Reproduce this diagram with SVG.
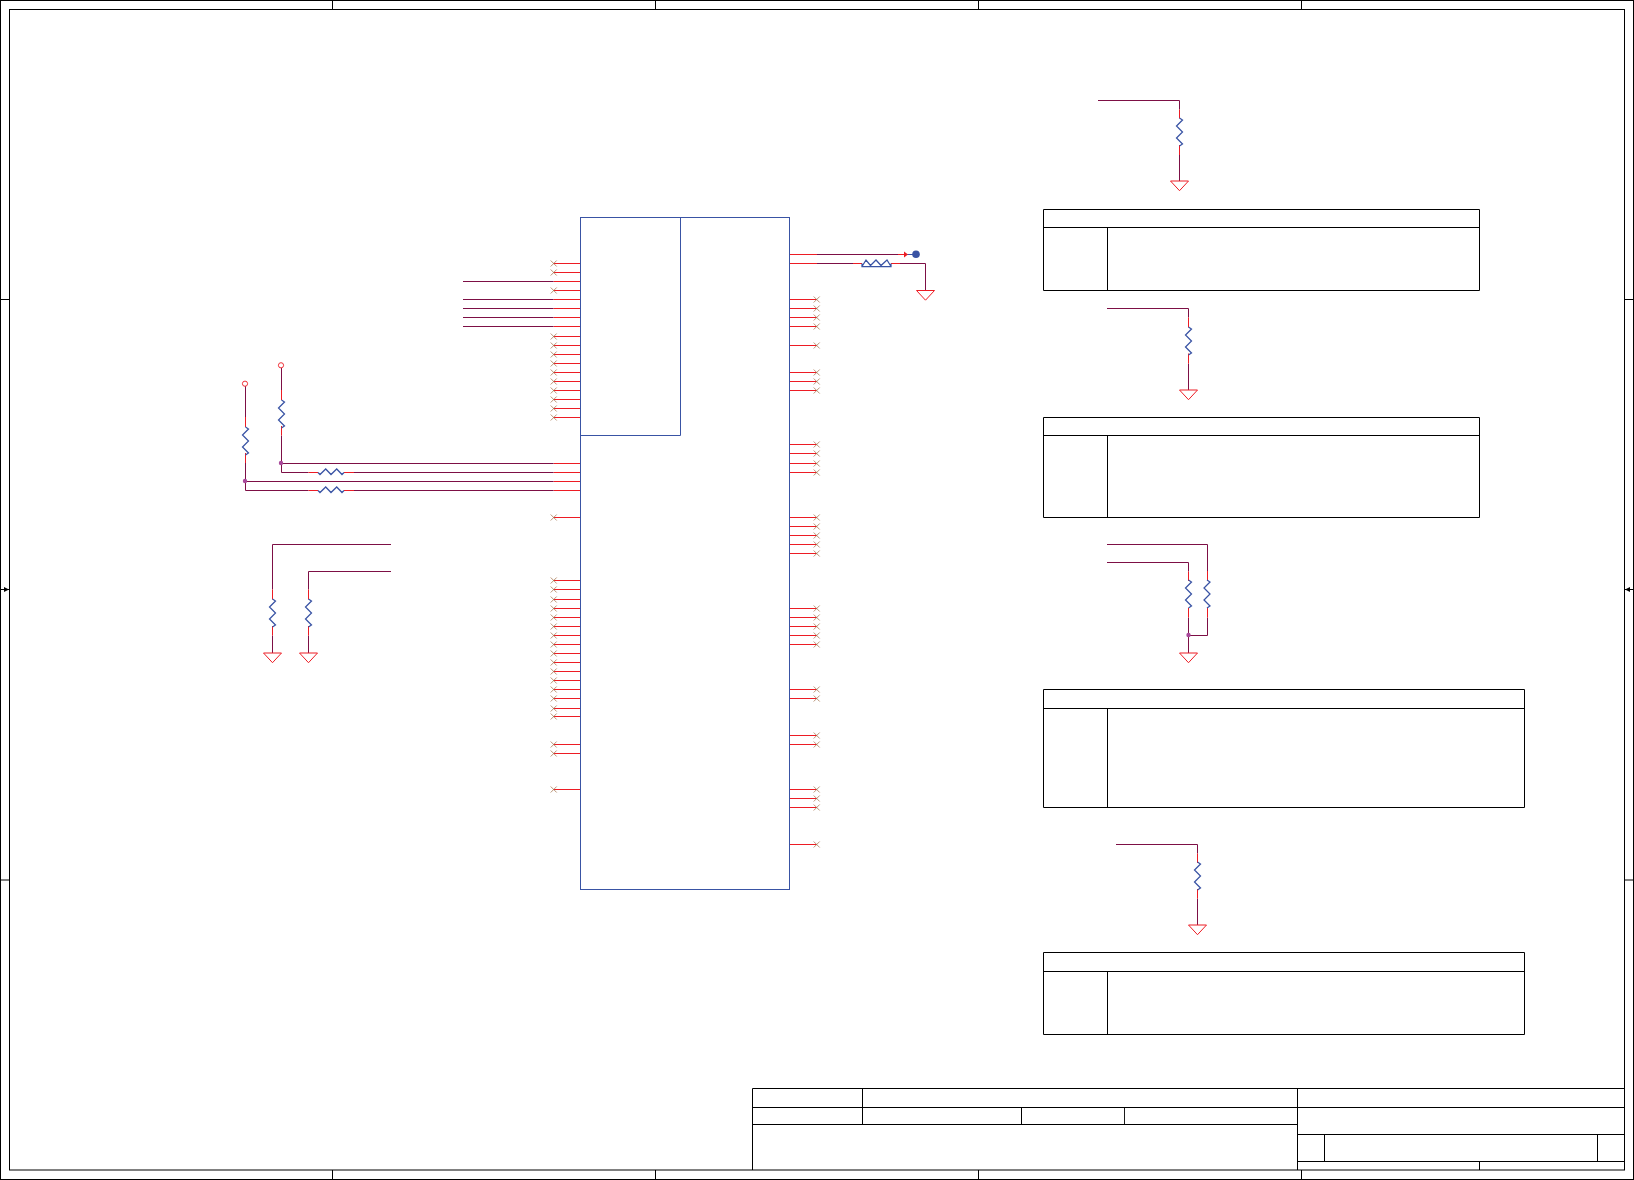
<svg xmlns="http://www.w3.org/2000/svg" width="1634" height="1180" viewBox="0 0 1634 1180">
<style>
.f{fill:none;stroke:#000;stroke-width:1}
.f2{fill:none;stroke:#000;stroke-width:.9}
.b{fill:none;stroke:#3953a4;stroke-width:1}
.z{fill:none;stroke:#3953a4;stroke-width:1.25}
.r{fill:none;stroke:#ed1c24;stroke-width:1}
.w{fill:none;stroke:#7d0f45;stroke-width:1}
.x{fill:none;stroke:#a87a56;stroke-width:.8}
.g{fill:#fff;stroke:#ed1c24;stroke-width:1}
.j{fill:#a8489a}
</style>
<defs>
<path id="x" class="x" d="M-3-3L3 3M-3 3L3-3"/>
<path id="zv" class="z" d="M0-1L3 1L-3 7L3 13L-3 19L3 25L0 27"/>
<path id="zh" class="z" d="M0 0L2 2L7.7-3.5L13 2L18.7-3.5L24 2L26 0"/>
<path id="gnd" class="g" d="M-9 0H9L0 9.7Z"/>
</defs>
<rect width="1634" height="1180" fill="#fff"/>
<g id="frame">
<rect class="f" x=".5" y=".5" width="1633" height="1179"/>
<rect class="f" x="9.5" y="9.5" width="1615" height="1160.5"/>
<path class="f" d="M332.5 .5V9.5M655.5 .5V9.5M978.5 .5V9.5M1301.5 .5V9.5M332.5 1170V1179.5M655.5 1170V1179.5M978.5 1170V1179.5M1301.5 1170V1179.5M.5 299.5H9.5M.5 880H9.5M1624.5 299.5H1633.5M1624.5 880H1633.5M.5 589.5H9.5M1624.5 589.5H1633.5"/>
<path d="M4 587L9 589.5L4 592ZM1630 587L1625 589.5L1630 592Z" fill="#000"/>
</g>
<g id="title-block">
<path class="f" d="M752.5 1170V1088.5H1624.5M752.5 1107.5H1624.5M752.5 1124.5H1297.5M862.5 1088.5V1124.5M1021.5 1107.5V1124.5M1297.5 1088.5V1170M1297.5 1134.5H1624.5M1324.5 1134.5V1161.5M1597.5 1134.5V1161.5M1297.5 1161.5H1624.5M1479.5 1161.5V1170"/>
<path class="f2" d="M1124.5 1107.5V1124.5"/>
</g>
<g id="table-1"><path class="f" d="M1043.5 209.5H1479.5V290.5H1043.5ZM1043.5 227.5H1479.5M1107.5 227.5V290.5"/></g>
<g id="table-2"><path class="f" d="M1043.5 417.5H1479.5V517.5H1043.5ZM1043.5 435.5H1479.5M1107.5 435.5V517.5"/></g>
<g id="table-3"><path class="f" d="M1043.5 689.5H1524.5V807.5H1043.5ZM1043.5 708.5H1524.5M1107.5 708.5V807.5"/></g>
<g id="table-4"><path class="f" d="M1043.5 952.5H1524.5V1034.5H1043.5ZM1043.5 971.5H1524.5M1107.5 971.5V1034.5"/></g>
<g id="connectors">
<path class="r" d="M553.5 263.5H580M553.5 272.5H580M553.5 281.5H580M553.5 290.5H580M553.5 299.5H580M553.5 308.5H580M553.5 317.5H580M553.5 326.5H580M553.5 336.5H580M553.5 345.5H580M553.5 354.5H580M553.5 363.5H580M553.5 372.5H580M553.5 381.5H580M553.5 390.5H580M553.5 399.5H580M553.5 408.5H580M553.5 417.5H580M553.5 463.5H580M553.5 472.5H580M553.5 481.5H580M553.5 490.5H580M553.5 517.5H580M553.5 580.5H580M553.5 589.5H580M553.5 599.5H580M553.5 608.5H580M553.5 617.5H580M553.5 626.5H580M553.5 635.5H580M553.5 644.5H580M553.5 653.5H580M553.5 662.5H580M553.5 671.5H580M553.5 680.5H580M553.5 689.5H580M553.5 698.5H580M553.5 708.5H580M553.5 716.5H580M553.5 744.5H580M553.5 753.5H580M553.5 789.5H580"/>
<path class="r" d="M790 254.5H817M790 263.5H817M790 299.5H817M790 308.5H817M790 317.5H817M790 326.5H817M790 345.5H817M790 372.5H817M790 381.5H817M790 390.5H817M790 444.5H817M790 453.5H817M790 463.5H817M790 472.5H817M790 517.5H817M790 526.5H817M790 535.5H817M790 544.5H817M790 553.5H817M790 608.5H817M790 617.5H817M790 626.5H817M790 635.5H817M790 644.5H817M790 689.5H817M790 698.5H817M790 735.5H817M790 744.5H817M790 789.5H817M790 798.5H817M790 807.5H817M790 844.5H817"/>
<path class="w" d="M463 281.5H553.5M463 299.5H553.5M463 308.5H553.5M463 317.5H553.5M463 326.5H553.5"/>
<path class="w" d="M281.5 463.5H553.5M281.5 368V390M281.5 435.5V472.5H308.5M354 472.5H553.5M245.5 481.5H553.5M245.5 386V417M245.5 463V490.5H308.5M354 490.5H553.5"/>
<path class="r" d="M281.5 390V400M281.5 426V435.5M245.5 417V427M245.5 453V463M308.5 472.5H318M344 472.5H354M308.5 490.5H318M344 490.5H354"/>
<path class="w" d="M391 544.5H272.5V589.5M272.5 635.5V653M391 571.5H308.5V589.5M308.5 635.5V653"/>
<path class="r" d="M272.5 589.5V599.5M272.5 626V635.5M308.5 589.5V599.5M308.5 626V635.5"/>
<path class="w" d="M817 254.5H898M817 263.5H853M900 263.5H925.5V290.5"/>
<path class="r" d="M898 254.5H905M853 263.5H862M891 263.5H900"/>
<path class="b" d="M906 254.5H913"/>
<path d="M904 251.5L908 254.5L904 257.5Z" fill="#ed1c24"/>
<path class="w" d="M1098 100.5H1179.5V109.5M1179.5 155V181M1107 308.5H1188.5V317.5M1188.5 363.5V390M1107 544.5H1207.5V571M1207.5 617.5V635.5H1188.5M1107 562.5H1188.5V571.5M1188.5 617.5V653M1116 844.5H1197.5V853.5M1197.5 898.5V925"/>
<path class="r" d="M1179.5 109.5V118.5M1179.5 145V155M1188.5 317.5V327.5M1188.5 353.5V363.5M1207.5 571V581M1207.5 608V617.5M1188.5 571.5V581M1188.5 608V617.5M1197.5 853.5V863M1197.5 889V898.5"/>
</g>
<g id="no-connects">
<use href="#x" x="553.7" y="263.5"/><use href="#x" x="553.7" y="272.5"/><use href="#x" x="553.7" y="290.5"/><use href="#x" x="553.7" y="336.5"/><use href="#x" x="553.7" y="345.5"/><use href="#x" x="553.7" y="354.5"/><use href="#x" x="553.7" y="363.5"/><use href="#x" x="553.7" y="372.5"/><use href="#x" x="553.7" y="381.5"/><use href="#x" x="553.7" y="390.5"/><use href="#x" x="553.7" y="399.5"/><use href="#x" x="553.7" y="408.5"/><use href="#x" x="553.7" y="417.5"/><use href="#x" x="553.7" y="517.5"/>
<use href="#x" x="553.7" y="580.5"/><use href="#x" x="553.7" y="589.5"/><use href="#x" x="553.7" y="599.5"/><use href="#x" x="553.7" y="608.5"/><use href="#x" x="553.7" y="617.5"/><use href="#x" x="553.7" y="626.5"/><use href="#x" x="553.7" y="635.5"/><use href="#x" x="553.7" y="644.5"/><use href="#x" x="553.7" y="653.5"/><use href="#x" x="553.7" y="662.5"/><use href="#x" x="553.7" y="671.5"/><use href="#x" x="553.7" y="680.5"/><use href="#x" x="553.7" y="689.5"/><use href="#x" x="553.7" y="698.5"/><use href="#x" x="553.7" y="708.5"/><use href="#x" x="553.7" y="716.5"/><use href="#x" x="553.7" y="744.5"/><use href="#x" x="553.7" y="753.5"/><use href="#x" x="553.7" y="789.5"/>
<use href="#x" x="816.7" y="299.5"/><use href="#x" x="816.7" y="308.5"/><use href="#x" x="816.7" y="317.5"/><use href="#x" x="816.7" y="326.5"/><use href="#x" x="816.7" y="345.5"/><use href="#x" x="816.7" y="372.5"/><use href="#x" x="816.7" y="381.5"/><use href="#x" x="816.7" y="390.5"/><use href="#x" x="816.7" y="444.5"/><use href="#x" x="816.7" y="453.5"/><use href="#x" x="816.7" y="463.5"/><use href="#x" x="816.7" y="472.5"/><use href="#x" x="816.7" y="517.5"/><use href="#x" x="816.7" y="526.5"/><use href="#x" x="816.7" y="535.5"/><use href="#x" x="816.7" y="544.5"/><use href="#x" x="816.7" y="553.5"/><use href="#x" x="816.7" y="608.5"/><use href="#x" x="816.7" y="617.5"/><use href="#x" x="816.7" y="626.5"/><use href="#x" x="816.7" y="635.5"/><use href="#x" x="816.7" y="644.5"/><use href="#x" x="816.7" y="689.5"/><use href="#x" x="816.7" y="698.5"/><use href="#x" x="816.7" y="735.5"/><use href="#x" x="816.7" y="744.5"/><use href="#x" x="816.7" y="789.5"/><use href="#x" x="816.7" y="798.5"/><use href="#x" x="816.7" y="807.5"/><use href="#x" x="816.7" y="844.5"/>
</g>
<g id="ic"><rect class="b" x="580.5" y="217.5" width="209" height="672"/><path class="b" d="M680.5 217.5V435.5H580.5"/></g>
<g id="testpoint"><circle cx="916" cy="254.3" r="3.8" fill="#3953a4"/></g>
<g id="tp-1"><circle cx="245" cy="383.7" r="2.6" fill="#fff" stroke="#ed1c24" stroke-width=".9"/></g>
<g id="tp-2"><circle cx="281" cy="365.3" r="2.6" fill="#fff" stroke="#ed1c24" stroke-width=".9"/></g>
<g id="resistors">
<use href="#zv" x="281.5" y="401"/><use href="#zv" x="245.5" y="428"/><use href="#zv" x="272.5" y="600"/><use href="#zv" x="308.5" y="600"/>
<use href="#zv" x="1179.5" y="119"/><use href="#zv" x="1188.5" y="328"/><use href="#zv" x="1188.5" y="581"/><use href="#zv" x="1207" y="581"/><use href="#zv" x="1197.5" y="863"/>
<use href="#zh" x="318" y="472.5"/><use href="#zh" x="318" y="490.5"/>
<path class="z" d="M862 263.5V266.5H891V263.5M862 266.5L866 260L870.5 265.5L876 260L881 265.5L887 260L891 266.5"/>
</g>
<g id="grounds">
<use href="#gnd" x="272.5" y="653"/><use href="#gnd" x="308.5" y="653"/><use href="#gnd" x="925.5" y="290.5"/><use href="#gnd" x="1179.5" y="181"/><use href="#gnd" x="1188.5" y="390"/><use href="#gnd" x="1188.5" y="653"/><use href="#gnd" x="1197.5" y="925"/>
</g>
<g id="junctions"><circle class="j" cx="281" cy="463" r="2.2"/><circle class="j" cx="245" cy="481" r="2.2"/><circle class="j" cx="1188.5" cy="635" r="2.2"/></g>
</svg>
